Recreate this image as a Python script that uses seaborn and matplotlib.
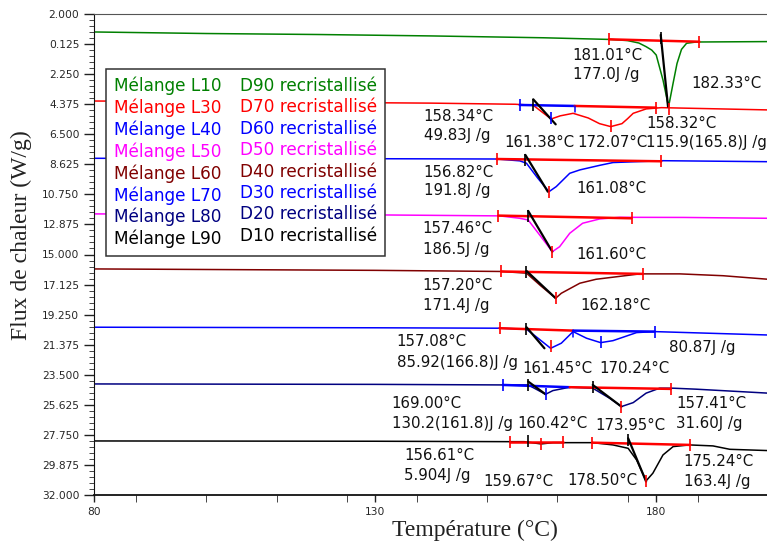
"""DSC - Mélanges L/D recristallisés"""
import seaborn as sns
import matplotlib.pyplot as plt
import matplotlib.ticker as mticker
import pandas as pd

sns.set_style('ticks')
plt.rcParams['font.family'] = ['DejaVu Sans']

RED, BLUE, BLACK = '#ff0000', '#0000ff', '#000000'

samples = ['L10', 'L30', 'L40', 'L50', 'L60', 'L70', 'L80', 'L90']
recrist = ['D90', 'D70', 'D60', 'D50', 'D40', 'D30', 'D20', 'D10']
colors = ['#008000', '#ff0000', '#0000ff', '#ff00ff', '#800000', '#0000ff', '#000080', '#000000']

# temperature (°C) / heat flow (W/g)
t_l10 = [80, 100, 120, 140, 160, 172, 175, 177, 178.3, 179.3, 180.1, 181.3, 182.3, 183.1, 183.8, 184.6, 185.5, 187.2, 200]
f_l10 = [-0.73, -0.62, -0.55, -0.45, -0.32, -0.2, -0.12, 0.05, 0.31, 0.55, 0.9, 2.66, 4.55, 2.9, 1.5, 0.5, 0.07, -0.02, -0.05]
t_l30 = [80, 110, 140, 155, 158.2, 160, 161.4, 163, 165.3, 168, 170, 172, 174, 175, 176, 178.3, 181, 200]
f_l30 = [4.15, 4.22, 4.3, 4.38, 4.45, 5.0, 5.42, 5.2, 5.02, 5.35, 5.75, 5.96, 5.75, 5.4, 5.02, 4.71, 4.62, 4.78]
t_l40 = [80, 120, 151.7, 155.8, 157, 159, 161, 162.3, 164.7, 166.5, 170, 172.4, 181.3, 200]
f_l40 = [8.2, 8.22, 8.25, 8.38, 8.55, 9.6, 10.56, 10.2, 9.26, 9.02, 8.7, 8.5, 8.37, 8.44]
t_l50 = [80, 130, 152.2, 155.8, 157.3, 159.5, 161.6, 162.9, 164.7, 167, 170, 173.6, 185, 200]
f_l50 = [12.13, 12.2, 12.27, 12.44, 12.56, 13.7, 14.8, 14.45, 13.5, 12.79, 12.49, 12.37, 12.38, 12.44]
t_l60 = [80, 130, 152.5, 157, 159.5, 162.2, 163.2, 166.5, 169.4, 177.2, 184.3, 192, 200]
f_l60 = [16.02, 16.12, 16.2, 16.32, 17.2, 18.09, 17.74, 17.03, 16.75, 16.37, 16.37, 16.5, 16.75]
t_l70 = [80, 130, 152.2, 157, 159, 161.3, 163.2, 165.3, 167.7, 170.2, 172.4, 176.6, 179.8, 200]
f_l70 = [20.14, 20.18, 20.21, 20.28, 20.9, 21.63, 21.27, 20.45, 20.92, 21.23, 21.09, 20.52, 20.45, 20.69]
t_l80 = [80, 130, 152.8, 157.3, 160.4, 161.7, 164.7, 168.8, 171.8, 173.9, 176, 178.3, 180.7, 183.1, 187.2, 200]
f_l80 = [24.15, 24.18, 24.22, 24.22, 24.88, 24.62, 24.38, 24.45, 25.16, 25.75, 25.47, 24.8, 24.45, 24.45, 24.52, 24.8]
t_l90 = [80, 130, 154, 156.6, 159.6, 161.7, 168.8, 172.4, 175.1, 176.6, 178.3, 179.5, 181.3, 183.1, 186, 190.2, 193.2, 200]
f_l90 = [28.18, 28.2, 28.23, 28.23, 28.39, 28.3, 28.3, 28.46, 28.7, 29.52, 31.0, 30.46, 29.17, 28.58, 28.46, 28.53, 28.77, 28.86]

temps = [t_l10, t_l30, t_l40, t_l50, t_l60, t_l70, t_l80, t_l90]
fluxes = [f_l10, f_l30, f_l40, f_l50, f_l60, f_l70, f_l80, f_l90]

# integration baselines (T0, f0, T1, f1, colour)
baselines = [
    (171.7, -0.21, 187.8, -0.04, RED),
    (155.8, 4.43, 165.6, 4.5, BLUE), (165.6, 4.5, 180.1, 4.62, RED),
    (151.7, 8.25, 181.0, 8.41, RED),
    (152.0, 12.25, 175.7, 12.44, RED),
    (152.5, 16.2, 177.7, 16.37, RED),
    (152.2, 20.21, 165.3, 20.38, RED), (165.3, 20.38, 179.8, 20.45, BLUE),
    (152.8, 24.22, 164.7, 24.38, BLUE), (164.7, 24.38, 182.7, 24.5, RED),
    (154.0, 28.23, 163.5, 28.23, RED), (168.7, 28.3, 186.2, 28.46, RED),
]
# vertical drop lines to the curve
drops = [(165.6, 4.5, 4.95, BLUE), (165.3, 20.38, 20.8, BLUE)]
# onset tangents
tangents = [
    (180.9, -0.52, 182.2, 4.55), (158.2, 4.03, 162.2, 5.8), (156.8, 7.96, 160.8, 10.56),
    (157.3, 11.92, 161.6, 14.8), (157.0, 16.16, 162.2, 18.09), (157.0, 20.14, 160.2, 21.63),
    (157.3, 23.98, 160.4, 24.88), (168.8, 24.22, 173.9, 25.75), (175.1, 27.99, 178.3, 31.05),
]
# limit / peak markers
marks = [
    (171.7, -0.21, RED), (187.8, -0.04, RED), (182.3, 4.7, RED), (180.9, -0.3, BLACK),
    (155.8, 4.43, BLUE), (161.3, 5.35, BLUE), (172.07, 5.93, RED), (180.1, 4.62, RED), (158.2, 4.4, BLACK),
    (151.7, 8.25, RED), (181.0, 8.41, RED), (161.0, 10.6, RED), (156.8, 8.3, BLACK),
    (152.0, 12.25, RED), (175.7, 12.44, RED), (161.6, 14.85, RED), (157.3, 12.25, BLACK),
    (152.5, 16.2, RED), (177.7, 16.37, RED), (162.2, 18.1, RED), (157.0, 16.25, BLACK),
    (152.2, 20.21, RED), (161.3, 21.5, RED), (170.2, 21.15, BLUE), (179.8, 20.45, BLUE), (157.0, 20.25, BLACK),
    (152.8, 24.22, BLUE), (160.4, 24.84, BLUE), (173.9, 25.75, RED), (182.7, 24.5, RED),
    (157.3, 24.2, BLACK), (168.8, 24.35, BLACK),
    (154.0, 28.23, RED), (159.6, 28.39, RED), (163.5, 28.23, RED), (168.7, 28.3, RED),
    (178.3, 31.0, RED), (186.2, 28.46, RED), (157.3, 28.2, BLACK), (175.1, 28.1, BLACK),
]
labels = [
    (165.2, 0.90, '181.01°C'), (165.2, 2.31, '177.0J /g'), (186.4, 2.88, '182.33°C'),
    (138.7, 5.21, '158.34°C'), (138.7, 6.62, '49.83J /g'), (153.0, 7.05, '161.38°C'),
    (166.1, 7.05, '172.07°C'), (178.3, 5.77, '158.32°C'), (178.3, 7.05, '115.9(165.8)J /g'),
    (138.7, 9.17, '156.82°C'), (138.7, 10.51, '191.8J /g'), (165.9, 10.30, '161.08°C'),
    (138.5, 13.19, '157.46°C'), (138.5, 14.68, '186.5J /g'), (165.9, 15.03, '161.60°C'),
    (138.5, 17.22, '157.20°C'), (138.5, 18.64, '171.4J /g'), (166.5, 18.64, '162.18°C'),
    (133.9, 21.18, '157.08°C'), (133.9, 22.66, '85.92(166.8)J /g'), (156.3, 23.09, '161.45°C'),
    (170.0, 23.09, '170.24°C'), (182.3, 21.60, '80.87J /g'),
    (133.0, 25.56, '169.00°C'), (133.0, 26.98, '130.2(161.8)J /g'), (155.3, 26.98, '160.42°C'),
    (169.3, 27.12, '173.95°C'), (183.7, 25.56, '157.41°C'), (183.7, 26.98, '31.60J /g'),
    (135.2, 29.24, '156.61°C'), (135.2, 30.65, '5.904J /g'), (149.4, 31.07, '159.67°C'),
    (164.3, 31.0, '178.50°C'), (185.0, 29.66, '175.24°C'), (185.0, 31.07, '163.4J /g'),
]

rows = []
for s, ts, fs in zip(samples, temps, fluxes):
    for t, f in zip(ts, fs):
        rows.append({'sample': s, 'T': t, 'flux': f})
df = pd.DataFrame(rows)

fig = plt.figure(figsize=(7.67, 5.48), dpi=100)
ax = fig.add_axes([94 / 767, 53 / 548, 674 / 767, 481 / 548])

sns.lineplot(data=df, x='T', y='flux', hue='sample', palette=colors, sort=False,
             estimator=None, lw=1.1, legend=False, ax=ax)

for t0, f0, t1, f1, c in baselines:
    ax.plot([t0, t1], [f0, f1], color=c, lw=1.8, zorder=3)
for t, f0, f1, c in drops:
    ax.plot([t, t], [f0, f1], color=c, lw=1.1, zorder=3)
for t0, f0, t1, f1 in tangents:
    ax.plot([t0, t1], [f0, f1], color=BLACK, lw=1.6, zorder=4)
for t, f, c in marks:
    ax.plot(t, f, marker='|', ms=8, mew=1.2, color=c, ls='none', zorder=5)
for t, f, s in labels:
    ax.text(t, f, s, fontsize=10.8, color='#111111', ha='left', va='center')

ax.set_xlim(80, 200)
ax.set_ylim(32, -2)
ax.xaxis.set_major_locator(mticker.FixedLocator([80, 130, 180]))
ax.xaxis.set_minor_locator(mticker.MultipleLocator(12.5))
yt = [-2 + 2.125 * k for k in range(17)]
ax.yaxis.set_major_locator(mticker.FixedLocator(yt))
ax.yaxis.set_major_formatter(mticker.FuncFormatter(lambda v, p: f'{abs(v):.3f}'))
ax.yaxis.set_minor_locator(mticker.AutoMinorLocator(5))
ax.tick_params(axis='both', which='major', labelsize=7.7, direction='out', width=1, color='#222222')
ax.tick_params(axis='x', which='both', length=5)
ax.tick_params(axis='y', which='major', length=7)
ax.tick_params(axis='y', which='minor', length=3.5)

ax.spines['right'].set_visible(False)
ax.spines['top'].set_color('#555555')
ax.spines['left'].set_color('#111111')
ax.spines['bottom'].set_color('#111111')
ax.spines['bottom'].set_linewidth(1.3)

ax.set_xlabel('Température (°C)', family='Liberation Serif', fontsize=17, color='#222222')
ax.set_ylabel('Flux de chaleur (W/g)', family='Liberation Serif', fontsize=17, color='#222222')
ax.xaxis.set_label_coords(0.565, -0.052)
ax.yaxis.set_label_coords(-0.092, 0.54)

handles = [plt.Line2D([], [], lw=0) for _ in range(16)]
leg_labels = [f'Mélange {s}' for s in samples] + [f'{d} recristallisé' for d in recrist]
leg = ax.legend(handles, leg_labels, ncol=2, labelcolor=colors + colors, fontsize=12.2,
                handlelength=0, handletextpad=0, columnspacing=1.1, labelspacing=0.2,
                borderpad=0.45, loc='upper left', bbox_to_anchor=(0.0178, 0.8857),
                borderaxespad=0, fancybox=False, framealpha=1)
leg.get_frame().set_edgecolor('#333333')
leg.get_frame().set_linewidth(1.1)

fig.savefig('out.png', dpi=100, facecolor='white')
